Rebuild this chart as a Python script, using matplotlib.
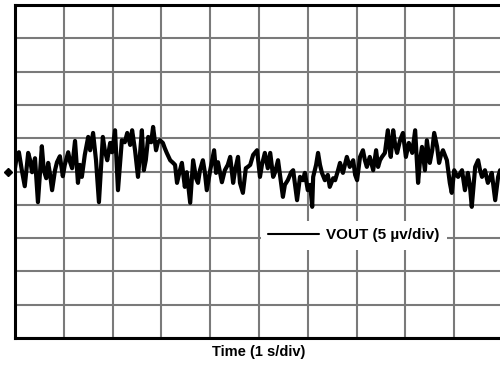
import matplotlib
matplotlib.use("Agg")
import matplotlib.pyplot as plt

plt.rcParams['font.family'] = ['Liberation Sans', 'DejaVu Sans']

# Time (s), 1 s/div
time_s = [0.00, 0.04, 0.08, 0.14, 0.20, 0.27, 0.31, 0.35, 0.41, 0.47,
          0.51, 0.55, 0.59, 0.64, 0.68, 0.72, 0.76, 0.82, 0.86, 0.92,
          0.98, 1.02, 1.09, 1.13, 1.17, 1.23, 1.29, 1.33, 1.37, 1.43,
          1.50, 1.54, 1.60, 1.66, 1.72, 1.76, 1.80, 1.84, 1.89, 1.95,
          1.99, 2.05, 2.11, 2.15, 2.19, 2.25, 2.30, 2.36, 2.40, 2.46,
          2.52, 2.56, 2.60, 2.64, 2.68, 2.73, 2.79, 2.83, 2.89, 2.93,
          2.97, 3.03, 3.07, 3.11, 3.18, 3.24, 3.28, 3.32, 3.38, 3.42,
          3.48, 3.52, 3.59, 3.65, 3.71, 3.75, 3.79, 3.85, 3.89, 3.93,
          4.00, 4.08, 4.12, 4.16, 4.24, 4.30, 4.36, 4.41, 4.47, 4.51,
          4.57, 4.61, 4.67, 4.73, 4.77, 4.82, 4.88, 4.96, 5.02, 5.06,
          5.12, 5.18, 5.23, 5.29, 5.33, 5.39, 5.43, 5.49, 5.53, 5.59,
          5.66, 5.70, 5.78, 5.84, 5.90, 5.94, 6.00, 6.05, 6.09, 6.11,
          6.17, 6.21, 6.25, 6.29, 6.35, 6.41, 6.45, 6.52, 6.56, 6.62,
          6.66, 6.72, 6.76, 6.80, 6.86, 6.93, 6.97, 7.01, 7.07, 7.13,
          7.17, 7.21, 7.27, 7.34, 7.40, 7.44, 7.48, 7.52, 7.58, 7.64,
          7.68, 7.70, 7.75, 7.79, 7.83, 7.89, 7.95, 8.01, 8.07, 8.14,
          8.20, 8.26, 8.30, 8.34, 8.40, 8.44, 8.50, 8.55, 8.59, 8.65,
          8.69, 8.73, 8.77, 8.85, 8.91, 8.95, 9.00, 9.04, 9.08, 9.16,
          9.22, 9.28, 9.32, 9.36, 9.43, 9.49, 9.53, 9.57, 9.63, 9.69,
          9.73, 9.77, 9.84, 9.90, 9.94]

# VOUT noise (µV), 5 µV/div
vout_uv = [0.5, 2.5, 2.9, 0.2, -2.2, 2.8, 1.7, -0.1, 2.0, -4.6,
           -0.5, 3.8, 0.2, -1.0, 1.3, -0.5, -2.8, 0.2, 1.4, 2.3,
           -0.7, 1.0, 2.9, 1.4, 0.5, 4.6, -1.7, 1.0, -0.8, 2.5,
           5.2, 3.2, 5.8, 1.7, -4.6, 0.2, 5.2, 3.2, 1.7, 4.3,
           2.9, 6.2, -2.8, 1.0, 4.7, 4.4, 5.8, 4.0, 6.2, 3.2,
           -0.8, 2.5, 6.2, 0.2, 1.7, 5.2, 4.4, 6.7, 3.2, 4.4,
           4.7, 4.3, 3.5, 2.8, 1.7, 1.3, 1.0, -1.7, 0.2, 1.3,
           -2.3, -0.1, -4.7, 1.7, -1.0, -1.7, 0.2, 1.7, -0.1, -2.8,
           0.2, 3.2, -0.2, 1.4, -1.6, 0.2, 1.0, 2.2, -1.7, 0.2,
           2.2, -1.7, -3.2, 0.5, 0.7, 1.0, 2.5, 3.2, -0.8, 1.0,
           2.8, 0.5, 2.8, -0.8, -0.1, 1.7, -0.5, -3.8, -2.0, -1.3,
           -0.1, 0.2, -4.3, -0.8, -1.3, -0.2, -2.8, -2.0, -5.3, -0.8,
           1.0, 2.8, 1.0, -0.2, -1.3, -0.5, -2.3, -1.0, -1.3, 0.2,
           1.3, -0.2, 1.0, 2.2, 0.7, 1.7, -0.5, -1.3, 2.2, 3.2,
           1.7, 0.7, 2.2, 0.2, 3.2, 0.7, 1.7, 2.2, 2.8, 6.2,
           3.2, 2.2, 6.2, 4.0, 2.8, 4.7, 5.8, 2.2, 4.3, 2.8,
           6.2, -1.7, 1.7, 3.7, 0.2, 4.7, 1.3, 3.2, 5.8, 3.7,
           1.3, 2.5, 3.2, 1.7, -1.7, -3.2, 0.2, -0.5, -0.8, 0.2,
           -2.8, -0.2, -2.0, -5.3, 0.7, 1.7, 0.2, -0.8, 0.2, -1.7,
           -1.0, -0.2, -4.3, -0.8, 0.2]

ref_marker_t = [-0.15]
ref_marker_v = [0.0]

series_label = "VOUT (5 \u00b5v/div)"
x_label = "Time (1 s/div)"

fig = plt.figure(figsize=(5.0, 3.65), dpi=100)
ax = fig.add_axes([0.030, 0.074, 0.976, 0.912])

ax.set_xlim(0, 10)
ax.set_ylim(-25, 25)
ax.set_xticks(range(0, 11))
ax.set_yticks(range(-25, 26, 5))
ax.tick_params(length=0, labelbottom=False, labelleft=False)
ax.grid(True, color='#7a7a7a', linewidth=1.5)
ax.set_axisbelow(True)

for side in ['top', 'bottom', 'left']:
    ax.spines[side].set_linewidth(2.2)
    ax.spines[side].set_color('black')
ax.spines['right'].set_visible(False)

line, = ax.plot(time_s, vout_uv, color='black', linewidth=3.0,
                solid_joinstyle='round', solid_capstyle='round',
                label=series_label, zorder=3)
ax.plot(ref_marker_t, ref_marker_v, marker='D', color='black',
        markersize=4.5, linestyle='none', clip_on=False, zorder=4)

leg = ax.legend(handles=[line], loc='center', bbox_to_anchor=(0.694, 0.308),
                prop={'weight': 'bold', 'size': 11}, frameon=True,
                fancybox=False, framealpha=1.0, facecolor='white',
                edgecolor='none', handlelength=3.3, handletextpad=0.45,
                borderpad=0.5, borderaxespad=0)
leg.get_lines()[0].set_linewidth(1.5)

ax.set_xlabel(x_label, fontsize=10.5, fontweight='bold', labelpad=5)

fig.savefig('out.png', dpi=100)
